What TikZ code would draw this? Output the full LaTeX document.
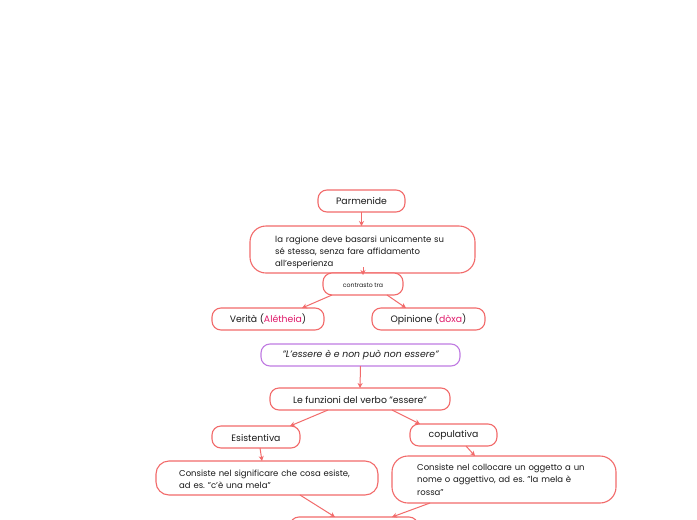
\documentclass[tikz,border=0pt]{standalone}
\usepackage{fontspec}
\setmainfont{Poppins}
\usetikzlibrary{arrows.meta}
\frenchspacing
\definecolor{boxred}{HTML}{F26B6B}
\definecolor{accent}{HTML}{E0196A}
\definecolor{boxpurple}{HTML}{C07BE2}
\definecolor{txt}{HTML}{1A1A1A}
\tikzset{
  box/.style={draw=boxred, line width=1.1pt, rounded corners=9pt, fill=white, inner sep=0pt, text=txt},
  conn/.style={draw=boxred, line width=1pt, -{Stealth[length=5pt,width=5pt]}},
  lbl/.style={font=\fontsize{9.3}{12}\selectfont, text=txt},
  para/.style={font=\fontsize{8.5}{12}\selectfont, text=txt, align=left, anchor=north west, text width=230pt, inner sep=0pt},
}
\begin{document}
\begin{tikzpicture}[x=1pt,y=-1pt]
\useasboundingbox (0,0) rectangle (697,520);
\clip (0,0) rectangle (697,520);
\fill[white] (0,0) rectangle (697,520);
% boxes
\draw[box] (318,190) rectangle (405,212);
\node[lbl] (parm) at (361.5,201) {Parmenide};
\coordinate (parmB) at (361.5,212);
\draw[box, rounded corners=16pt] (250,226) rectangle (475,273);
\node[para] (rag) at (275,235.5) {la ragione deve basarsi unicamente su\\sé stessa, senza fare affidamento\\all’esperienza};
\coordinate (ragT) at (361.5,226);
\coordinate (ragB) at (363,267);
\draw[box] (323,273) rectangle (403,295);
\node[lbl, font=\fontsize{6.2}{8}\selectfont] (contr) at (363,285) {contrasto tra};
\coordinate (contrT) at (363,275);
\coordinate (contrBL) at (332,295);
\coordinate (contrBR) at (387,295);
\draw[box] (212,308) rectangle (324,330);
\node[lbl] (ver) at (268,319.5) {Verità (\textcolor{accent}{Alétheia})};
\coordinate (verT) at (302,308);
\draw[box] (372,308) rectangle (485,330);
\node[lbl] (opi) at (428.5,319.5) {Opinione (\textcolor{accent}{dòxa})};
\coordinate (opiT) at (406,308);
\draw[box, draw=boxpurple] (261,344) rectangle (460,366);
\node[lbl] (quote) at (360.5,355) {\itshape ”L’essere è e non può non essere”};
\coordinate (quoteB) at (360.5,366);
\draw[box] (270,388) rectangle (450,410);
\node[lbl] (funz) at (360,399.5) {Le funzioni del verbo ”essere”};
\coordinate (funzT) at (360,388);
\coordinate (funzBL) at (328,410);
\coordinate (funzBR) at (392,410);
\draw[box] (212,426) rectangle (300,448);
\node[lbl] (esi) at (256,437.5) {Esistentiva};
\coordinate (esiT) at (290,426);
\coordinate (esiB) at (260,448);
\draw[box] (410,424) rectangle (497,446);
\node[lbl] (cop) at (453.5,435.5) {copulativa};
\coordinate (copT) at (420,424);
\coordinate (copB) at (466,446);
\draw[box, rounded corners=13pt] (156,461) rectangle (378,495);
\node[para, font=\fontsize{8.5}{12.5}\selectfont] (cons1) at (179,469.5) {Consiste nel significare che cosa esiste,\\ad es. ”c’è una mela”};
\coordinate (cons1T) at (262,461);
\coordinate (cons1B) at (300,495);
\draw[box, rounded corners=16pt] (392,456) rectangle (616,503);
\node[para, font=\fontsize{8.5}{12.5}\selectfont] (cons2) at (417,463.5) {Consiste nel collocare un oggetto a un\\nome o aggettivo, ad es. ”la mela è\\rossa”};
\coordinate (cons2T) at (475,456);
\coordinate (cons2B) at (430,503);
\draw[box] (290,517) rectangle (418,545);
\coordinate (botT1) at (335,517);
\coordinate (botT2) at (392,517);
% connectors
\draw[conn] (parmB) -- (ragT);
\draw[conn] (ragB) -- (contrT);
\draw[conn] (contrBL) -- (verT);
\draw[conn] (contrBR) -- (opiT);
\draw[conn] (quoteB) -- (funzT);
\draw[conn] (funzBL) -- (esiT);
\draw[conn] (funzBR) -- (copT);
\draw[conn] (esiB) -- (cons1T);
\draw[conn] (copB) -- (cons2T);
\draw[conn] (cons1B) -- (botT1);
\draw[conn] (cons2B) -- (botT2);
\end{tikzpicture}
\end{document}
